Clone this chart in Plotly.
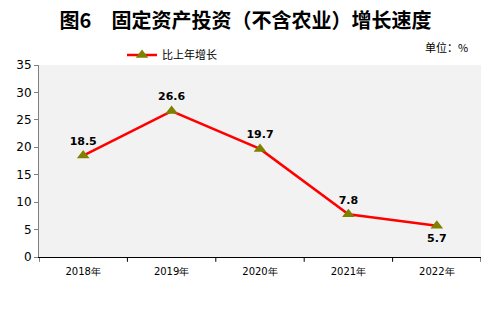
import plotly.graph_objects as go

years = ["2018年", "2019年", "2020年", "2021年", "2022年"]
growth = [18.5, 26.6, 19.7, 7.8, 5.7]
label_pos = ["top center", "top center", "top center", "top center", "bottom center"]
y_ticks = [0, 5, 10, 15, 20, 25, 30, 35]

font_family = "Noto Sans CJK SC, DejaVu Sans, sans-serif"

H = 328
T, B = 65, 71
PH = H - T - B


def py(pix):
    return (H - B - pix) / PH


fig = go.Figure()
fig.add_trace(go.Scatter(
    x=list(range(len(years))), y=growth,
    mode="lines+markers+text",
    name="比上年增长",
    line=dict(color="#ff0000", width=2.5),
    marker=dict(symbol="triangle-up", size=11, color="#808000"),
    text=[f"{v}" for v in growth],
    textposition=label_pos,
    textfont=dict(size=11, color="black", family="DejaVu Sans, sans-serif", weight="bold"),
    cliponaxis=False,
))

fig.update_layout(
    width=491, height=H,
    margin=dict(l=39, r=10, t=T, b=B),
    paper_bgcolor="white",
    plot_bgcolor="#f2f2f2",
    font=dict(family=font_family, size=11, color="black"),
    title=dict(text="<b>图6　固定资产投资（不含农业）增长速度</b>", x=0.5, xanchor="center",
               y=1 - 21 / H, yanchor="middle", font=dict(size=20, family=font_family)),
    showlegend=True,
    legend=dict(x=(122 - 39) / 442, y=py(55), yanchor="middle",
                xanchor="left", orientation="h", font=dict(size=11), bgcolor="rgba(0,0,0,0)"),
    xaxis=dict(
        range=[-0.5, len(years) - 0.5],
        tickmode="array", tickvals=list(range(len(years))), ticktext=years,
        showgrid=False, zeroline=False,
        showline=True, linecolor="black", linewidth=1,
        ticks="", ticklabelstandoff=5,
        tickfont=dict(size=10, family="DejaVu Sans, sans-serif"),
    ),
    yaxis=dict(
        range=[0, 35], tickvals=y_ticks,
        showgrid=False, zeroline=False,
        showline=True, linecolor="#808080", linewidth=1,
        ticks="outside", ticklen=4, tickcolor="#808080",
        tickfont=dict(size=12, family="DejaVu Sans, sans-serif"),
    ),
)

for i in range(len(years) + 1):
    fig.add_shape(type="line", xref="x", yref="paper", x0=i - 0.5, x1=i - 0.5,
                  y0=0, y1=-0.025, line=dict(color="black", width=1))

fig.add_annotation(text="单位：%", xref="paper", yref="paper", x=(470 - 39) / 442, y=py(47),
                   xanchor="right", yanchor="middle", showarrow=False,
                   font=dict(size=11))

fig.write_html("out.html")
